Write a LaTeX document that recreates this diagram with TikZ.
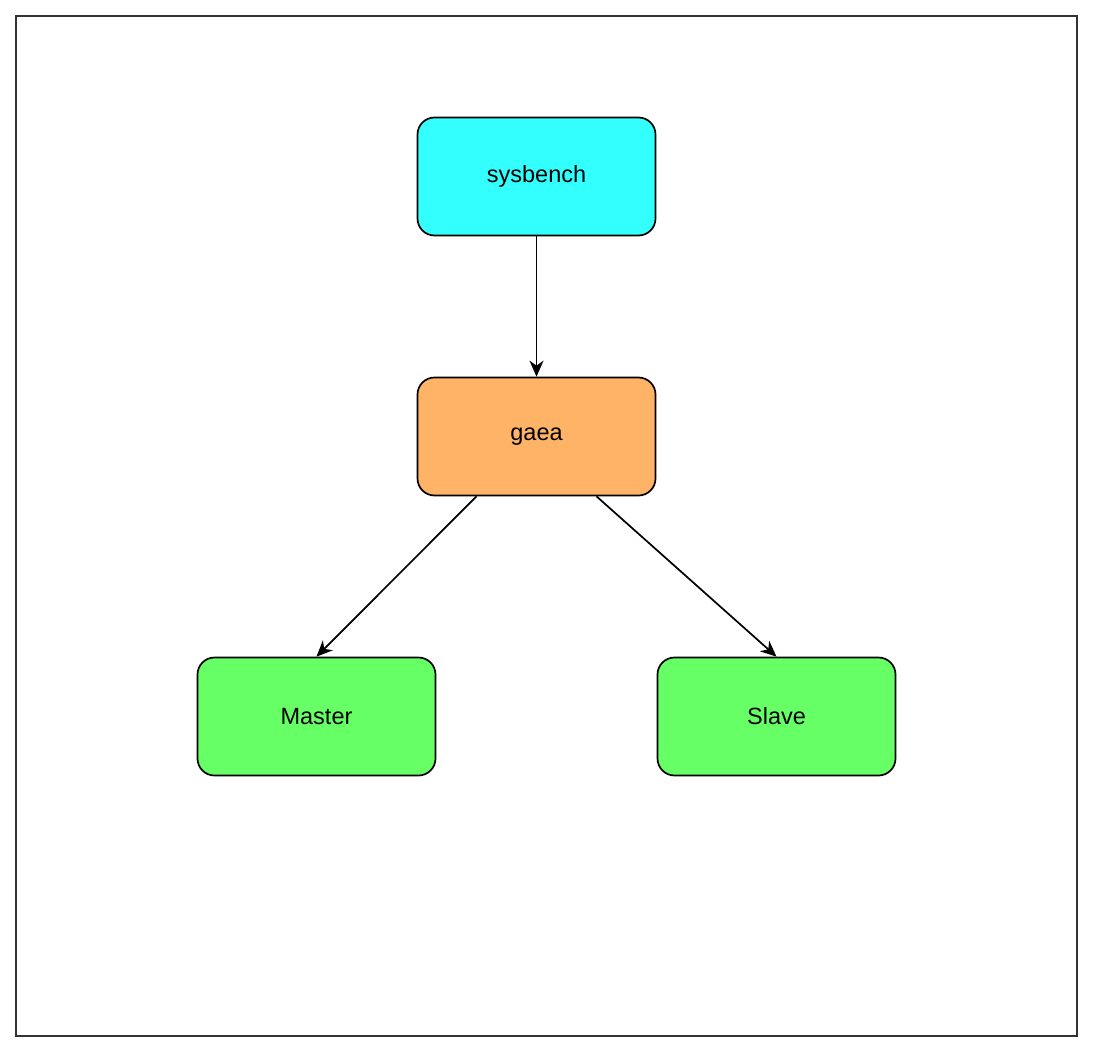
\documentclass[tikz,border=0pt]{standalone}
\usepackage{fontspec}
\setmainfont{Liberation Sans}
\usetikzlibrary{arrows.meta}
\definecolor{cyanfill}{HTML}{33FFFF}
\definecolor{orangefill}{HTML}{FFB366}
\definecolor{greenfill}{HTML}{66FF66}
\definecolor{framecol}{HTML}{333333}
\tikzset{
  box/.style={draw=black, line width=1.7pt, rounded corners=17pt,
    minimum width=238pt, minimum height=118pt, inner sep=0pt,
    font=\fontsize{23.5}{28}\selectfont, text=black},
  conn/.style={draw=black, line width=1.7pt,
    -{Stealth[length=16pt, width=14pt, inset=5pt]}},
}
\begin{document}
\begin{tikzpicture}[x=1pt, y=-1pt]
\useasboundingbox[fill=white] (0,0) rectangle (1094,1054);
\draw[framecol, line width=2pt] (16,16) rectangle (1077,1036);
\node[box, fill=cyanfill] (sys) at (536.5,176.5) {sysbench};
\node[box, fill=orangefill] (gaea) at (536.5,436.5) {gaea};
\node[box, fill=greenfill] (master) at (316.5,716.5) {Master};
\node[box, fill=greenfill] (slave) at (776.5,716.5) {Slave};
\draw[conn] (sys.south) -- (gaea.north);
\draw[conn] ([xshift=-60pt]gaea.south) -- (master.north);
\draw[conn] ([xshift=60pt]gaea.south) -- (slave.north);
\end{tikzpicture}
\end{document}
